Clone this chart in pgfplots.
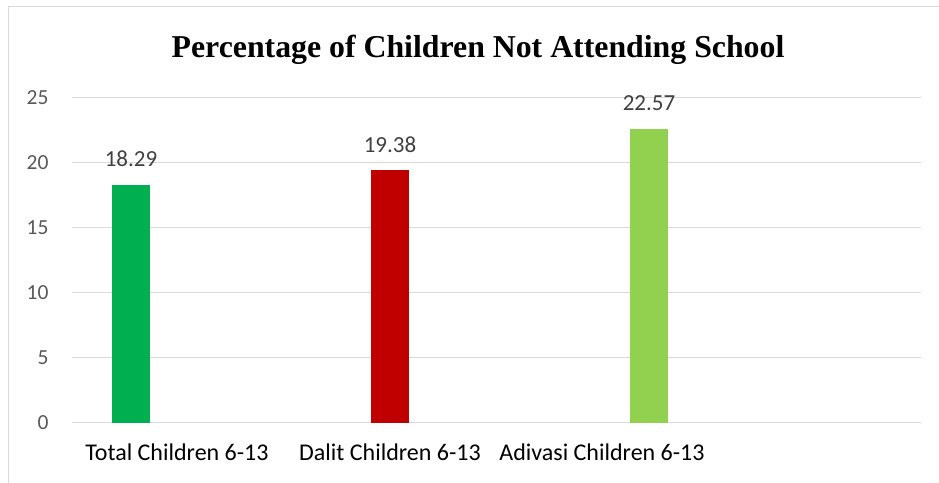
\documentclass[border=0pt]{standalone}
\usepackage{pgfplots}
\pgfplotsset{compat=1.18}
\usepackage{fontspec}
\setmainfont{Carlito}
\newfontfamily\titlefont{Liberation Serif}

\definecolor{gridgray}{HTML}{D9D9D9}
\definecolor{ticklbl}{HTML}{595959}
\definecolor{datalbl}{HTML}{404040}
\definecolor{barA}{HTML}{00B050}
\definecolor{barB}{HTML}{C00000}
\definecolor{barC}{HTML}{92D050}

\begin{document}
\begin{tikzpicture}[x=1pt,y=1pt]
\path[use as bounding box] (0,0) rectangle (939,482);
\draw[gridgray, line width=1pt] (8,-5) -- (8,475) -- (945,475);
\begin{axis}[
    at={(71.7pt,59.3pt)}, anchor=south west,
    scale only axis,
    width=849pt, height=325.4pt,
    xmin=71.7, xmax=920.7,
    ymin=0, ymax=25,
    axis line style={draw=none},
    ytick={0,5,10,15,20,25},
    ymajorgrids,
    grid style={gridgray, line width=0.9pt},
    major tick length=0pt,
    /pgf/number format/assume math mode=true,
    yticklabel style={font=\fontsize{21.5}{21.5}\selectfont, text=ticklbl, anchor=east, inner sep=0pt, xshift=-23pt},
    xtick={177,390,602},
    xticklabels={Total Children 6-13, Dalit Children 6-13, Adivasi Children 6-13},
    xticklabel style={font=\fontsize{24}{24}\selectfont, text=black, anchor=base, inner sep=0pt, yshift=-38pt},
    ybar, bar width=38pt,
    nodes near coords,
    nodes near coords style={font=\fontsize{23}{23}\selectfont, text=datalbl, anchor=south, inner sep=0pt, yshift=17.8pt,
        /pgf/number format/.cd, fixed, fixed zerofill, precision=2, assume math mode=true},
    title={\titlefont\bfseries Percentage of Children Not Attending School},
    title style={at={(rel axis cs:0.4786,1.1050)}, anchor=base, inner sep=0pt, font=\fontsize{31.8}{31.8}\selectfont},
]
\addplot[draw=none, fill=barA, bar shift=0pt] coordinates {(131,18.29)};
\addplot[draw=none, fill=barB, bar shift=0pt] coordinates {(390,19.38)};
\addplot[draw=none, fill=barC, bar shift=0pt] coordinates {(649,22.57)};
\end{axis}
\end{tikzpicture}
\end{document}
